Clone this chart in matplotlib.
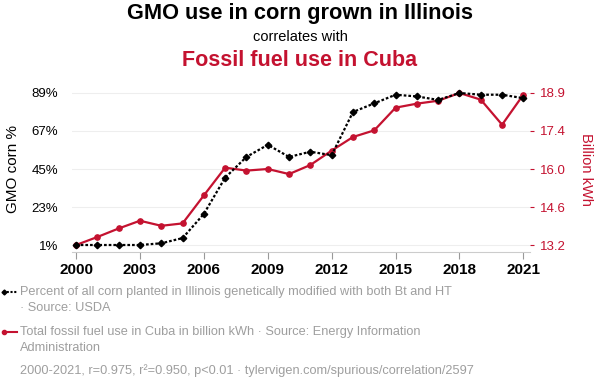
"""GMO corn in Illinois vs fossil fuel use in Cuba (spurious correlation)."""

import matplotlib

matplotlib.use("Agg")

import matplotlib.pyplot as plt
from matplotlib.lines import Line2D
import numpy as np

years = list(range(2000, 2022))
gmo_pct = [1, 1, 1, 1, 2, 5, 19, 40, 52, 59, 52, 55, 53, 78, 83, 88, 87, 85, 89, 88, 88, 86]
fossil_kwh = [13.17, 13.47, 13.79, 14.08, 13.89, 13.98, 15.03, 16.07, 15.96, 16.02, 15.83,
              16.17, 16.71, 17.22, 17.47, 18.32, 18.47, 18.58, 18.87, 18.62, 17.68, 18.81]
x_ticks = [2000, 2003, 2006, 2009, 2012, 2015, 2018, 2021]
left_ticks = [1, 23, 45, 67, 89]

RED = "#c41230"
GRAY = "#9e9e9e"
FONT = "Liberation Sans"

plt.rcParams["font.family"] = [FONT, "DejaVu Sans"]

W, H = 600, 392


def fx(px):
    return px / W


def fy(py):
    return 1 - py / H


def main() -> None:
    fig = plt.figure(figsize=(6, 3.92), dpi=100)

    ax = fig.add_axes([fx(72), fy(252), fx(530) - fx(72), fy(86) - fy(252)])
    ax2 = ax.twinx()

    # red series on the primary axes (drawn below), ticks on the right
    ax.plot(years, fossil_kwh, color=RED, lw=1.6, marker="o", ms=3.8, zorder=3)
    lo, hi = min(fossil_kwh), max(fossil_kwh)
    pad = (hi - lo) * 0.046
    ax.set_ylim(lo - pad, hi + pad)
    rticks = np.linspace(lo, hi, 5)
    ax.set_yticks(rticks)
    ax.set_yticklabels([f"{v:.1f}" for v in rticks])
    ax.yaxis.tick_right()
    ax.yaxis.set_label_position("right")
    ax.tick_params(axis="y", colors=RED, labelsize=9.5, length=3, pad=4)
    ax.set_ylabel("Billion kWh", color=RED, fontsize=10.5, rotation=270, labelpad=20)
    ax.grid(axis="y", color="#eeeeee", lw=0.8)
    ax.set_axisbelow(True)

    # black series on the twin, ticks on the left
    ax2.plot(years, gmo_pct, color="black", lw=1.6, ls=(0, (1.2, 0.9)),
             marker="D", ms=3.3, zorder=4)
    pad2 = (max(gmo_pct) - min(gmo_pct)) * 0.046
    ax2.set_ylim(min(gmo_pct) - pad2, max(gmo_pct) + pad2)
    ax2.set_yticks(left_ticks)
    ax2.set_yticklabels([f"{v}%" for v in left_ticks])
    ax2.yaxis.tick_left()
    ax2.yaxis.set_label_position("left")
    ax2.tick_params(axis="y", colors="black", labelsize=9.5, length=0, pad=10)
    ax2.set_ylabel("GMO corn %", fontsize=11, labelpad=8)

    ax.set_xlim(1999.81, 2021.31)
    ax.set_xticks(x_ticks)
    ax.tick_params(axis="x", labelsize=11, length=5, color="#999999", pad=3)
    for lab in ax.get_xticklabels():
        lab.set_fontweight("bold")

    for a in (ax, ax2):
        for side in ("top", "left", "right"):
            a.spines[side].set_visible(False)
        a.spines["bottom"].set_color("#cccccc")
    ax2.spines["bottom"].set_visible(False)

    fig.text(0.5, fy(13), "GMO use in corn grown in Illinois", ha="center", va="center",
             fontsize=15.7, fontweight="bold")
    fig.text(0.5, fy(37), "correlates with", ha="center", va="center", fontsize=10.5)
    fig.text(0.5, fy(60), "Fossil fuel use in Cuba", ha="center", va="center",
             fontsize=15.5, fontweight="bold", color=RED)

    # legend
    fig.add_artist(Line2D([fx(3), fx(17)], [fy(292), fy(292)], color="black", lw=1.5,
                          ls=(0, (1, 0.8)), transform=fig.transFigure))
    fig.add_artist(Line2D([fx(4)], [fy(292)], color="black", marker="D", ms=2.5,
                          transform=fig.transFigure))
    fig.add_artist(Line2D([fx(3), fx(17)], [fy(332), fy(332)], color=RED, lw=1.5,
                          transform=fig.transFigure))
    fig.add_artist(Line2D([fx(4)], [fy(332)], color=RED, marker="o", ms=3,
                          transform=fig.transFigure))
    fs = 9.2
    fig.text(fx(20), fy(292), "Percent of all corn planted in Illinois genetically modified with both Bt and HT",
             va="center", fontsize=fs, color=GRAY)
    fig.text(fx(20), fy(308), "\u00b7 Source: USDA", va="center", fontsize=fs, color=GRAY)
    fig.text(fx(20), fy(332), "Total fossil fuel use in Cuba in billion kWh \u00b7 Source: Energy Information",
             va="center", fontsize=fs, color=GRAY)
    fig.text(fx(20), fy(348), "Administration", va="center", fontsize=fs, color=GRAY)
    fig.text(fx(20), fy(371),
             "2000-2021, r=0.975, r\u00b2=0.950, p<0.01 \u00b7 tylervigen.com/spurious/correlation/2597",
             va="center", fontsize=fs, color=GRAY)

    fig.savefig("out.png", dpi=100)
    plt.close(fig)


if __name__ == "__main__":
    main()
